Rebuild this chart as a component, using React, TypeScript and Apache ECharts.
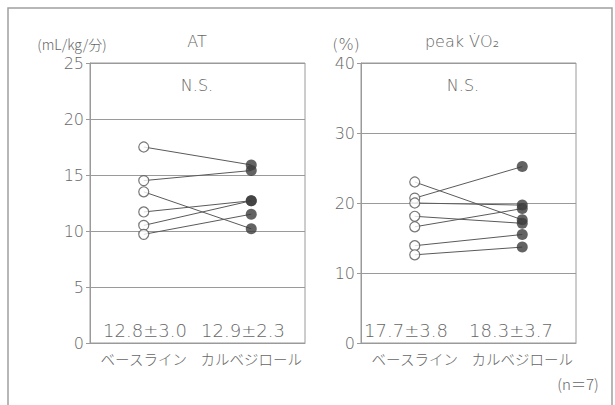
import React, { useEffect, useRef } from "react";
import * as echarts from "echarts";

// AT (mL/kg/分): paired values per subject
const atCategories = ["ベースライン", "カルベジロール"];
const atBaseline = [17.5, 14.5, 13.5, 11.7, 10.5, 9.7];
const atCarvedilol = [15.9, 15.4, 10.2, 12.7, 12.7, 11.5];
const atStats = ["12.8±3.0", "12.9±2.3"];

// peak VO2 (%): paired values per subject
const vo2Categories = ["ベースライン", "カルベジロール"];
const vo2Baseline = [23.0, 20.7, 20.0, 18.1, 16.6, 13.9, 12.6];
const vo2Carvedilol = [17.6, 25.2, 19.7, 17.1, 19.2, 15.5, 13.7];
const vo2Stats = ["17.7±3.8", "18.3±3.7"];

const atTicks = { min: 0, max: 25, interval: 5 };
const vo2Ticks = { min: 0, max: 40, interval: 10 };

const TEXT = "#666";
const GRID = "#9a9a9a";
const MARK = "#3c3c3c";
const NUM_FONT = "'DejaVu Sans ExtraLight', 'DejaVu Sans', sans-serif";
const JP_FONT = "'Noto Sans CJK JP', sans-serif";

function pairSeries(base: number[], after: number[], idx: number) {
  const lines = base.map((b, i) => ({
    type: "line",
    xAxisIndex: idx,
    yAxisIndex: idx,
    data: [b, after[i]],
    symbol: "none",
    lineStyle: { color: "#5a5a5a", width: 1 },
    z: 2,
  }));
  const open = {
    type: "scatter",
    xAxisIndex: idx,
    yAxisIndex: idx,
    data: base.map((v) => [0, v]),
    symbol: "circle",
    symbolSize: 10,
    itemStyle: { color: "#fff", borderColor: "#555", borderWidth: 1.2 },
    z: 4,
  };
  const filled = {
    type: "scatter",
    xAxisIndex: idx,
    yAxisIndex: idx,
    data: after.map((v) => [1, v]),
    symbol: "circle",
    symbolSize: 11,
    itemStyle: { color: MARK },
    z: 4,
  };
  return [...lines, open, filled];
}

function xAxis(cats: string[], gridIndex: number) {
  return {
    type: "category",
    gridIndex,
    data: cats,
    axisTick: { show: false },
    axisLine: { lineStyle: { color: GRID, width: 1 } },
    axisLabel: {
      interval: 0,
      hideOverlap: false,
      color: TEXT,
      fontSize: 14.5,
      fontFamily: JP_FONT,
      fontWeight: 300,
      margin: 8,
    },
  };
}

function yAxis(t: { min: number; max: number; interval: number }, gridIndex: number) {
  return {
    type: "value",
    gridIndex,
    min: t.min,
    max: t.max,
    interval: t.interval,
    axisLine: { show: true, lineStyle: { color: GRID, width: 1 } },
    axisTick: { show: true, length: 4, lineStyle: { color: GRID } },
    axisLabel: { color: TEXT, fontSize: 16, fontFamily: NUM_FONT, fontWeight: 200, margin: 6 },
    splitLine: { show: true, lineStyle: { color: GRID, width: 1 } },
  };
}

function txt(x: number, y: number, text: string, fontSize: number, fontFamily: string) {
  return {
    type: "text",
    x,
    y,
    style: {
      text,
      fill: TEXT,
      fontSize,
      fontFamily,
      fontWeight: fontFamily === JP_FONT ? 300 : 200,
      align: "center",
      verticalAlign: "middle",
    },
    z: 10,
  };
}

export default function App() {
  const ref = useRef<HTMLDivElement>(null);

  useEffect(() => {
    if (!ref.current) return;
    const chart = echarts.init(ref.current, null, { renderer: "svg" });
    chart.setOption({
      animation: false,
      backgroundColor: "#fff",
      grid: [
        { left: 90, top: 63, width: 215, height: 280, show: true, borderColor: GRID, borderWidth: 1 },
        { left: 361, top: 63, width: 215, height: 280, show: true, borderColor: GRID, borderWidth: 1 },
      ],
      xAxis: [xAxis(atCategories, 0), xAxis(vo2Categories, 1)],
      yAxis: [yAxis(atTicks, 0), yAxis(vo2Ticks, 1)],
      series: [
        ...pairSeries(atBaseline, atCarvedilol, 0),
        ...pairSeries(vo2Baseline, vo2Carvedilol, 1),
      ],
      graphic: [
        {
          type: "rect",
          shape: { x: 8, y: 8, width: 604, height: 420 },
          style: { fill: "none", stroke: "#a0a0a0", lineWidth: 1.5 },
          silent: true,
        },
        txt(72, 44, "(mL/kg/分)", 14, JP_FONT),
        txt(197, 41, "AT", 16, NUM_FONT),
        txt(197, 85, "N.S.", 16, NUM_FONT),
        txt(145, 330, atStats[0], 18, NUM_FONT),
        txt(243, 330, atStats[1], 18, NUM_FONT),
        txt(346, 44, "(%)", 16, NUM_FONT),
        txt(462, 41, "peak V̇O₂", 16, NUM_FONT),
        txt(463, 85, "N.S.", 16, NUM_FONT),
        txt(406, 330, vo2Stats[0], 18, NUM_FONT),
        txt(511, 330, vo2Stats[1], 18, NUM_FONT),
        txt(578, 383, "(n＝7)", 15, JP_FONT),
      ],
    });
    return () => chart.dispose();
  }, []);

  return (
    <div
      ref={ref}
      style={{ position: "absolute", left: 0, top: 0, width: 615, height: 405, background: "#fff" }}
    />
  );
}
